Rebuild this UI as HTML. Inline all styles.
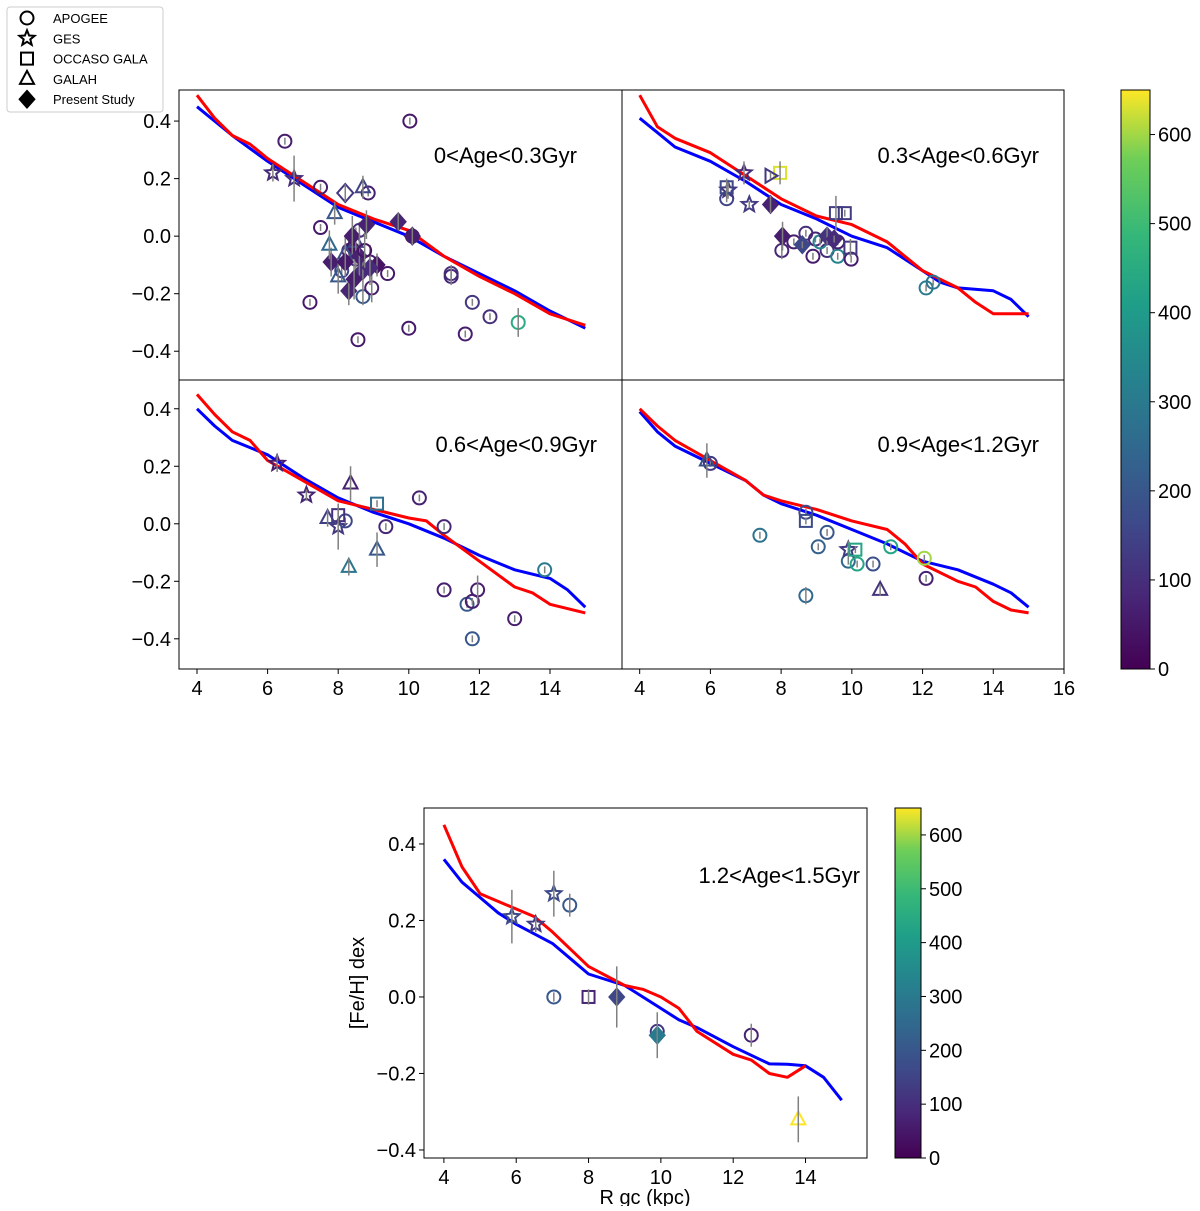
<!DOCTYPE html>
<html><head><meta charset="utf-8"><style>
body{margin:0;background:#fff;width:1200px;height:1206px;overflow:hidden;font-family:"Liberation Sans",sans-serif}
svg text{font-family:"Liberation Sans",sans-serif}
</style></head><body>
<svg id="c" width="1200" height="1206">
<defs>
<linearGradient id="vir" x1="0" y1="1" x2="0" y2="0">
<stop offset="0" stop-color="#440154"/><stop offset="0.13" stop-color="#482878"/><stop offset="0.25" stop-color="#3e4989"/><stop offset="0.38" stop-color="#31688e"/><stop offset="0.5" stop-color="#26828e"/><stop offset="0.63" stop-color="#1f9e89"/><stop offset="0.75" stop-color="#35b779"/><stop offset="0.88" stop-color="#6ece58"/><stop offset="1" stop-color="#fde725"/>
</linearGradient>
</defs>
</svg>
<script>
// ---- model curves ----
const p1BlueR=[4,5,6,7,8,9,10,11,12,13,14,15];
const p1BlueF=[0.45,0.35,0.26,0.18,0.10,0.05,0.00,-0.07,-0.13,-0.19,-0.26,-0.32];
const p1RedR=[4,4.5,5,5.5,6,7,8,9,10,11,12,13,14,15];
const p1RedF=[0.49,0.41,0.35,0.32,0.27,0.19,0.11,0.06,0.02,-0.07,-0.14,-0.20,-0.27,-0.31];
const p2BlueR=[4,4.5,5,6,7,8,9,10,11,12,12.5,13,14,14.5,15];
const p2BlueF=[0.41,0.36,0.31,0.26,0.19,0.11,0.06,0.00,-0.04,-0.12,-0.16,-0.18,-0.19,-0.22,-0.28];
const p2RedR=[4,4.5,5,6,7,8,9,10,11,12,13,13.5,14,15];
const p2RedF=[0.49,0.38,0.34,0.29,0.21,0.13,0.07,0.04,-0.02,-0.12,-0.18,-0.23,-0.27,-0.27];
const p3BlueR=[4,4.5,5,6,7,8,9,10,11,12,13,14,14.5,15];
const p3BlueF=[0.40,0.34,0.29,0.24,0.16,0.09,0.04,0.00,-0.05,-0.11,-0.16,-0.19,-0.23,-0.29];
const p3RedR=[4,4.5,5,5.5,6,7,8,9,10,10.5,11,12,13,13.5,14,15];
const p3RedF=[0.45,0.38,0.32,0.29,0.22,0.15,0.08,0.05,0.02,0.01,-0.04,-0.13,-0.22,-0.24,-0.28,-0.31];
const p4BlueR=[4,4.5,5,6,7,7.5,8,9,10,11,12,13,14,14.5,15];
const p4BlueF=[0.39,0.32,0.27,0.21,0.15,0.10,0.07,0.03,-0.02,-0.07,-0.13,-0.16,-0.21,-0.24,-0.29];
const p4RedR=[4,4.5,5,6,7,7.5,8,9,10,11,11.5,12,13,13.5,14,14.5,15];
const p4RedF=[0.40,0.34,0.29,0.22,0.15,0.10,0.08,0.05,0.01,-0.02,-0.07,-0.14,-0.20,-0.22,-0.27,-0.30,-0.31];
const p5BlueR=[4,4.5,5,5.5,6,7,7.5,8,9,10,10.5,11,12,13,13.5,14,14.5,15];
const p5BlueF=[0.36,0.30,0.26,0.22,0.19,0.14,0.10,0.06,0.03,-0.03,-0.06,-0.08,-0.13,-0.175,-0.176,-0.18,-0.21,-0.27];
const p5RedR=[4,4.5,5,6,6.5,7,8,9,9.5,10,10.5,11,12,12.5,13,13.5,14];
const p5RedF=[0.45,0.34,0.27,0.23,0.21,0.17,0.08,0.03,0.02,0.00,-0.03,-0.09,-0.15,-0.165,-0.20,-0.21,-0.18];
// ---- observed clusters: R, [Fe/H], age(Myr), marker, error ----
const p1R=[6.49,10.03,7.5,8.85,7.5,7.2,8.56,8.7,9.4,8.95,10.0,11.2,11.2,11.8,12.3,11.6,13.1,10.1,8.3,8.5,8.9,8.1,8.6,6.15,6.75,8.2,9.7,10.1,7.8,8.3,9.1,8.8,8.4,8.7,8.7,7.9,7.75,8.2,8.5,8.0,8.4,8.6,8.9,8.2,8.45,8.75];
const p1F=[0.33,0.40,0.17,0.15,0.03,-0.23,-0.36,-0.21,-0.13,-0.18,-0.32,-0.13,-0.14,-0.23,-0.28,-0.34,-0.30,0.0,-0.05,-0.08,-0.09,-0.12,0.02,0.22,0.20,0.15,0.05,0.0,-0.09,-0.19,-0.10,0.04,-0.04,-0.12,0.17,0.08,-0.03,-0.06,-0.02,-0.14,0.0,-0.07,-0.11,-0.09,-0.15,-0.05];
const p1Age=[60,50,60,60,50,50,50,200,50,60,50,100,80,120,100,60,450,50,80,90,60,150,100,90,100,120,80,60,60,80,40,70,40,90,150,200,250,170,150,200,60,70,90,50,60,40];
const p1M=['o','o','o','o','o','o','o','o','o','o','o','o','o','o','o','o','o','o','o','o','o','o','o','*','*','d','D','D','D','D','D','D','D','D','^','^','^','^','^','^','D','D','D','D','D','o'];
const p1E=[0,0,0,0,0,0,0,0.03,0,0.05,0,0.03,0.03,0,0,0,0.05,0,0.05,0.04,0.06,0.04,0.03,0.03,0.08,0.03,0.03,0.03,0.05,0.05,0.04,0.05,0.05,0.06,0.04,0.04,0.05,0.06,0.05,0.06,0.07,0.08,0.06,0.05,0.07,0.06];
const p2R=[6.46,8.02,8.7,8.36,8.9,8.97,9.3,9.6,9.98,9.6,12.1,12.3,9.1,6.5,6.95,7.1,6.46,7.97,9.55,9.8,9.96,7.7,7.7,8.04,8.6,9.3,9.5];
const p2F=[0.13,-0.05,0.01,-0.02,-0.07,-0.01,-0.05,-0.07,-0.08,-0.02,-0.18,-0.16,-0.02,0.16,0.22,0.11,0.17,0.22,0.08,0.08,-0.04,0.21,0.11,0.0,-0.03,0.0,-0.01];
const p2Age=[150,80,100,60,60,80,100,330,60,60,300,290,320,120,90,130,160,630,140,130,120,120,70,60,160,110,90];
const p2M=['o','o','o','o','o','o','o','o','o','o','o','o','o','*','*','*','s','s','s','s','s','>','D','D','D','D','D'];
const p2E=[0,0.03,0,0,0,0,0,0,0,0,0,0,0,0.03,0.04,0,0.03,0.04,0.06,0,0.03,0,0.03,0.05,0,0.03,0];
const p3R=[6.27,7.1,8.0,10.3,11.0,11.0,9.35,8.2,11.65,11.8,11.95,11.8,13.0,13.85,8.0,9.1,8.35,7.7,8.3,9.1];
const p3F=[0.21,0.10,-0.01,0.09,-0.01,-0.23,-0.01,0.01,-0.28,-0.27,-0.23,-0.40,-0.33,-0.16,0.03,0.07,0.14,0.02,-0.15,-0.09];
const p3Age=[60,80,120,70,80,60,80,160,200,60,60,200,60,300,100,270,70,140,290,200];
const p3M=['*','*','*','o','o','o','o','o','o','o','o','o','o','o','s','s','^','^','^','^'];
const p3E=[0.03,0.02,0.08,0,0,0,0,0,0,0,0.05,0,0,0,0.04,0,0.06,0.03,0.03,0.06];
const p4R=[6.0,7.4,8.7,8.7,9.05,9.3,9.9,10.15,10.6,11.1,12.05,12.1,9.9,8.7,10.1,5.9,10.8];
const p4F=[0.21,-0.04,-0.25,0.04,-0.08,-0.03,-0.13,-0.14,-0.14,-0.08,-0.12,-0.19,-0.09,0.01,-0.09,0.22,-0.23];
const p4Age=[120,280,250,170,230,200,250,430,180,430,600,70,130,170,430,180,110];
const p4M=['o','o','o','o','o','o','o','o','o','o','o','o','*','s','s','^','^'];
const p4E=[0,0,0.03,0,0,0,0,0,0,0,0,0,0.03,0,0,0.06,0.02];
const p5R=[5.88,6.54,7.04,7.48,7.04,9.9,12.5,8.0,8.78,9.9,13.8];
const p5F=[0.21,0.19,0.27,0.24,0.0,-0.09,-0.10,0.0,0.0,-0.1,-0.32];
const p5Age=[170,130,170,200,200,120,70,80,160,300,650];
const p5M=['*','*','*','o','o','o','o','s','D','D','^'];
const p5E=[0.07,0.02,0.06,0.03,0,0.03,0.03,0.02,0.08,0.06,0.06];
const cbTicks=[0,100,200,300,400,500,600];
const fTicks=[-0.4,-0.2,0.0,0.2,0.4];

const NS='http://www.w3.org/2000/svg';
const svg=document.getElementById('c');
function mk(tag,attrs,parent){const e=document.createElementNS(NS,tag);for(const k in attrs)e.setAttribute(k,attrs[k]);(parent||svg).appendChild(e);return e;}
const stops=[[0,[68,1,84]],[0.13,[72,40,120]],[0.25,[62,73,137]],[0.38,[49,104,142]],[0.5,[38,130,142]],[0.63,[31,158,137]],[0.75,[53,183,121]],[0.88,[110,206,88]],[1,[253,231,37]]];
function vir(a){let t=Math.max(0,Math.min(1,a/650));for(let i=1;i<stops.length;i++){if(t<=stops[i][0]){const[a0,c0]=stops[i-1],[a1,c1]=stops[i];const f=(t-a0)/(a1-a0);return 'rgb('+c0.map((v,j)=>Math.round(v+(c1[j]-v)*f)).join(',')+')';}}return 'rgb(253,231,37)';}

function marker(g,m,x,y,col){
  const sw=2;let e;
  if(m==='o')e=mk('circle',{cx:x,cy:y,r:6.5,fill:'none',stroke:col,'stroke-width':sw},g);
  else if(m==='s')e=mk('rect',{x:x-6,y:y-6,width:12,height:12,fill:'none',stroke:col,'stroke-width':sw},g);
  else if(m==='^')e=mk('polygon',{points:`${x},${y-8} ${x-7},${y+5} ${x+7},${y+5}`,fill:'none',stroke:col,'stroke-width':sw},g);
  else if(m==='>')e=mk('polygon',{points:`${x+7},${y} ${x-5},${y-7} ${x-5},${y+7}`,fill:'none',stroke:col,'stroke-width':sw},g);
  else if(m==='d'||m==='D')e=mk('polygon',{points:`${x},${y-9} ${x+8},${y} ${x},${y+9} ${x-8},${y}`,fill:m==='D'?col:'none',stroke:col,'stroke-width':m==='D'?1:sw},g);
  else{let p=[];for(let i=0;i<10;i++){const r=i%2?3.5:8,a=-Math.PI/2+i*Math.PI/5;p.push((x+r*Math.cos(a)).toFixed(1)+','+(y+r*Math.sin(a)).toFixed(1));}
    e=mk('polygon',{points:p.join(' '),fill:'none',stroke:col,'stroke-width':sw},g);}
  return e;
}

function panel(o){
  const {name,L,T,W,H,xmin,xmax,ymin,ymax}=o;
  const g=mk('g',{});
  
  
  const sx=v=>L+(v-xmin)/(xmax-xmin)*W, sy=v=>T+(ymax-v)/(ymax-ymin)*H;
  const fr=mk('rect',{x:L,y:T,width:W,height:H,fill:'none',stroke:'#000','stroke-width':1},g);
  
  
  if(o.yt){fTicks.forEach(v=>{const y=sy(v);mk('line',{x1:L-5,x2:L,y1:y,y2:y,stroke:'#000'},g);
    const t=mk('text',{x:L-8,y:y+7,'text-anchor':'end','font-size':20},g);t.textContent=(v<0?'\u2212'+Math.abs(v).toFixed(1):v.toFixed(1));
    
    });}
  if(o.xt){o.xt.forEach(v=>{const x=sx(v);mk('line',{x1:x,x2:x,y1:T+H,y2:T+H+5,stroke:'#000'},g);
    const t=mk('text',{x:x,y:T+H+26,'text-anchor':'middle','font-size':20},g);t.textContent=v;
    
    });}
  const lt=mk('text',{x:o.lx,y:o.ly,'text-anchor':'end','font-size':22},g);lt.textContent=o.label;
  
  
  [[o.bR,o.bF,'#0000ff','blue-model-line'],[o.rR,o.rF,'#ff0000','red-model-line']].forEach(([R,F,c,n])=>{
    const pl=mk('polyline',{points:R.map((r,i)=>sx(r).toFixed(1)+','+sy(F[i]).toFixed(1)).join(' '),fill:'none',stroke:c,'stroke-width':3,'stroke-linejoin':'round'},g);
    
    
  });
  o.R.forEach((r,i)=>{
    const x=sx(r),y=sy(o.F[i]);
    const err=o.E[i]>0?o.E[i]:0.012;
    const m=marker(g,o.M[i],x,y,vir(o.A[i]));
    
    
    const el=mk('line',{x1:x,x2:x,y1:sy(o.F[i]+err),y2:sy(o.F[i]-err),stroke:'#808080','stroke-width':1.5},g);
    
    
  });
}
panel({name:'panel-age-0-0.3',L:179,T:90,W:443,H:290,xmin:3.49,xmax:16.04,ymin:-0.5,ymax:0.508,yt:1,label:'0<Age<0.3Gyr',lx:577,ly:163,bR:p1BlueR,bF:p1BlueF,rR:p1RedR,rF:p1RedF,R:p1R,F:p1F,A:p1Age,M:p1M,E:p1E});
panel({name:'panel-age-0.3-0.6',L:622,T:90,W:442,H:290,xmin:3.5,xmax:16.0,ymin:-0.5,ymax:0.508,label:'0.3<Age<0.6Gyr',lx:1039,ly:163,bR:p2BlueR,bF:p2BlueF,rR:p2RedR,rF:p2RedF,R:p2R,F:p2F,A:p2Age,M:p2M,E:p2E});
panel({name:'panel-age-0.6-0.9',L:179,T:380,W:443,H:289,xmin:3.49,xmax:16.04,ymin:-0.505,ymax:0.5,yt:1,xt:[4,6,8,10,12,14],label:'0.6<Age<0.9Gyr',lx:597,ly:452,bR:p3BlueR,bF:p3BlueF,rR:p3RedR,rF:p3RedF,R:p3R,F:p3F,A:p3Age,M:p3M,E:p3E});
panel({name:'panel-age-0.9-1.2',L:622,T:380,W:442,H:289,xmin:3.5,xmax:16.0,ymin:-0.505,ymax:0.5,xt:[4,6,8,10,12,14,16],label:'0.9<Age<1.2Gyr',lx:1039,ly:452,bR:p4BlueR,bF:p4BlueF,rR:p4RedR,rF:p4RedF,R:p4R,F:p4F,A:p4Age,M:p4M,E:p4E});
panel({name:'panel-age-1.2-1.5',L:424,T:808,W:443,H:350,xmin:3.45,xmax:15.7,ymin:-0.421,ymax:0.494,yt:1,xt:[4,6,8,10,12,14],label:'1.2<Age<1.5Gyr',lx:860,ly:883,bR:p5BlueR,bF:p5BlueF,rR:p5RedR,rF:p5RedF,R:p5R,F:p5F,A:p5Age,M:p5M,E:p5E});

function colorbar(name,L,T,W,H){
  const g=mk('g',{});
  
  
  mk('rect',{x:L,y:T,width:W,height:H,fill:'url(#vir)',stroke:'#000','stroke-width':1},g);
  cbTicks.forEach(v=>{const y=T+H-v/650*H;mk('line',{x1:L+W,x2:L+W+5,y1:y,y2:y,stroke:'#000'},g);
    const t=mk('text',{x:L+W+8,y:y+7,'font-size':20},g);t.textContent=v;
    
    });
}
colorbar('colorbar-top',1121,90,29,579);
colorbar('colorbar-bottom',895,808,26,350);

let t=mk('text',{x:0,y:0,'font-size':20,'text-anchor':'middle',transform:'translate(364,983) rotate(-90)'});t.textContent='[Fe/H] dex';


t=mk('text',{x:645,y:1204,'font-size':20,'text-anchor':'middle'});t.textContent='R gc (kpc)';



const lg=mk('g',{});


mk('rect',{x:7,y:7,width:156,height:105,rx:3,fill:'#fff',stroke:'#ccc'},lg);
const legNames=['APOGEE','GES','OCCASO GALA','GALAH','Present Study'];
const legM=['o','*','s','^','D'];
legNames.forEach((n,i)=>{const y=18+i*20.3;
  const m=marker(lg,legM[i],27,y,'#000');
  const tx=mk('text',{x:53,y:y+5,'font-size':13},lg);tx.textContent=n;
  
  
});
</script>
</body></html>
